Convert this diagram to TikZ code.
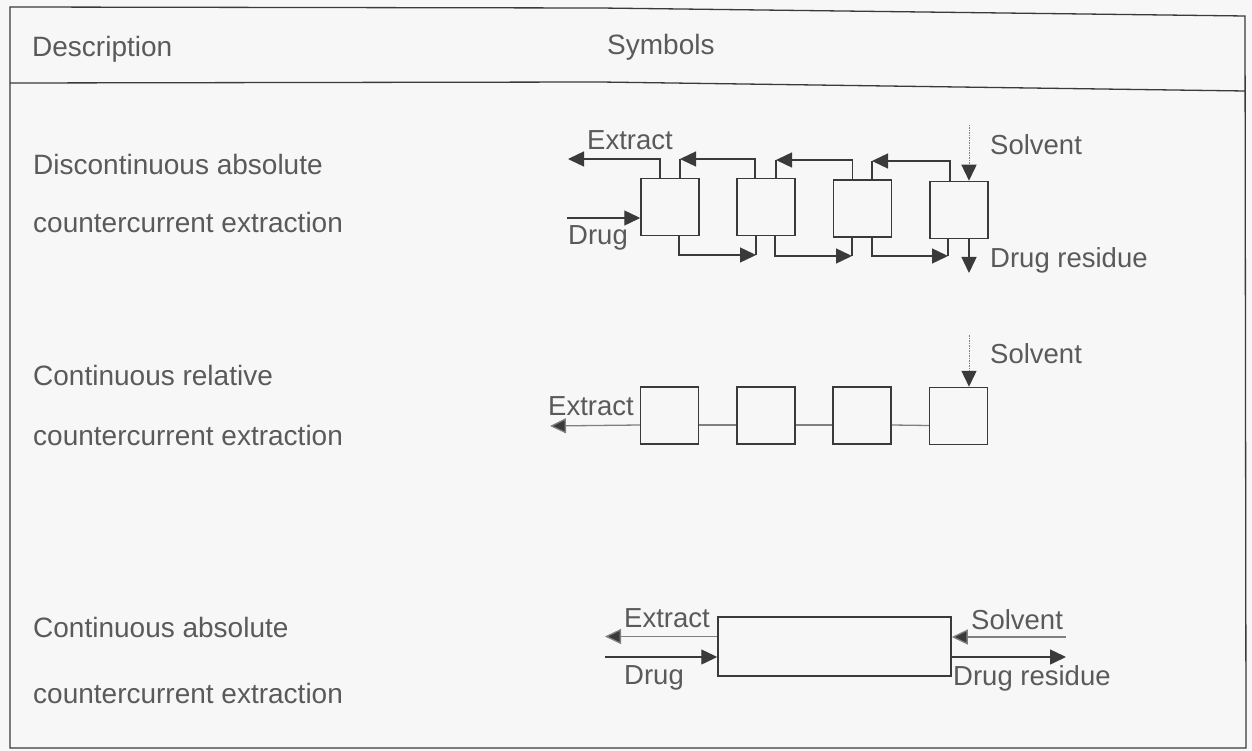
\documentclass[tikz,border=0pt]{standalone}
\usepackage{fontspec}
\setmainfont{Liberation Sans}
\usetikzlibrary{arrows.meta}
\definecolor{ink}{HTML}{3A3A3A}
\definecolor{txt}{HTML}{5A5A5A}
\definecolor{faint}{HTML}{808080}
\definecolor{paper}{HTML}{F7F7F7}
\begin{document}
\begin{tikzpicture}[x=1pt,y=-1pt,
  desc/.style={font=\fontsize{28}{30}\selectfont, text=txt, anchor=base west, inner sep=0pt},
  lbl/.style={font=\fontsize{27.5}{29}\selectfont, text=txt, anchor=base west, inner sep=0pt},
  box/.style={draw=ink, line width=1.5pt, minimum width=58pt, minimum height=57pt, inner sep=0pt},
  wire/.style={draw=ink, line width=1.4pt},
  arr/.style={-{Triangle[length=16pt,width=15pt,fill=ink]}},
  light/.style={draw=faint, line width=1.3pt},
  dotline/.style={draw=faint, line width=1pt, dash pattern=on 1.5pt off 1pt}]
\useasboundingbox (0,0) rectangle (1252,751);
\fill[paper] (0,0) rectangle (1252,751);
% frame
\draw[ink, line width=1.3pt] (10,7) -- (600,8) -- (1245,16) -- (1246,748) -- (10,748) -- cycle;
\draw[ink, line width=1.3pt] (10,83) -- (600,82) -- (1245,91);
% header
\node[desc] (hdesc) at (32,57) {Description};
\node[desc] (hsym) at (607,55) {Symbols};
% descriptions
\node[desc] (d1a) at (33,175) {Discontinuous absolute};
\node[desc] (d1b) at (33,233) {countercurrent extraction};
\node[desc] (d2a) at (33,385) {Continuous relative};
\node[desc] (d2b) at (33,445) {countercurrent extraction};
\node[desc] (d3a) at (33,637) {Continuous absolute};
\node[desc] (d3b) at (33,703) {countercurrent extraction};

% ---------- row 1 ----------
\node[box] (a1) at (670,207) {};
\node[box] (a2) at (766,207) {};
\node[box] (a3) at (862.5,208.5) {};
\node[box] (a4) at (959,210) {};
\coordinate (ext1) at (568,159);
\coordinate (t12) at (680,159);
\coordinate (t23) at (776,160);
\coordinate (t34) at (872,161);
\draw[wire,arr] ([xshift=-10pt]a1.north) |- (ext1);
\draw[wire,arr] ([xshift=-11pt]a2.north) |- (t12);
\draw[wire] (t12) -- (t12 |- a1.north);
\draw[wire,arr] ([xshift=-10pt]a3.north) |- (t23);
\draw[wire] (t23) -- (t23 |- a2.north);
\draw[wire,arr] ([xshift=-9pt]a4.north) |- (t34);
\draw[wire] (t34) -- (t34 |- a3.north);
\coordinate (b12) at (756,255);
\coordinate (b23) at (852,256);
\coordinate (b34) at (948,256);
\draw[wire,arr] ([xshift=9pt]a1.south) |- (b12);
\draw[wire] (b12) -- (b12 |- a2.south);
\draw[wire,arr] ([xshift=9pt]a2.south) |- (b23);
\draw[wire] (b23) -- (b23 |- a3.south);
\draw[wire,arr] ([xshift=9.5pt]a3.south) |- (b34);
\draw[wire] (b34) -- (b34 |- a4.south);
\coordinate (res1) at (969,273);
\draw[wire,arr] (res1 |- a4.south) -- (res1);
\coordinate (sol1) at (969,125);
\draw[dotline] (sol1) -- (969,168);
\draw[wire,arr] (969,166) -- (sol1 |- a4.north);
\coordinate (drug1) at (567,218);
\draw[wire,arr] (drug1) -- (drug1 -| a1.west);
\node[lbl] (l1e) at (587,150) {Extract};
\node[lbl] (l1d) at (568,244) {Drug};
\node[lbl] (l1s) at (990,155) {Solvent};
\node[lbl] (l1r) at (990,267) {Drug residue};

% ---------- row 2 ----------
\node[box] (c1) at (669.5,415.5) {};
\node[box] (c2) at (766,415.5) {};
\node[box] (c3) at (862,415.5) {};
\node[box] (c4) at (958.5,416) {};
\draw[light] ([yshift=-9.5pt]c1.east) -- ([yshift=-9.5pt]c2.west);
\draw[light] ([yshift=-9.5pt]c2.east) -- ([yshift=-9.5pt]c3.west);
\draw[light] ([yshift=-9.5pt]c3.east) -- ([yshift=-9.5pt]c4.west);
\coordinate (ext2) at (550,426);
\draw[light,arr] ([yshift=-9.5pt]c1.west) -- (ext2);
\coordinate (sol2) at (969,335);
\draw[dotline] (sol2) -- (969,373);
\draw[wire,arr] (969,371) -- (sol2 |- c4.north);
\node[lbl] (l2e) at (548,415) {Extract};
\node[lbl] (l2s) at (990,363) {Solvent};

% ---------- row 3 ----------
\node[box, minimum width=233pt, minimum height=59pt] (d) at (834.5,646.5) {};
\coordinate (ext3) at (605,636.5);
\coordinate (drug3) at (605,657);
\coordinate (sol3) at (1066,637);
\coordinate (res3) at (1066,657);
\draw[light,arr] (ext3 -| d.west) -- (ext3);
\draw[wire,arr] (drug3) -- (drug3 -| d.west);
\draw[light,arr] (sol3) -- (sol3 -| d.east);
\draw[wire,arr] (res3 -| d.east) -- (res3);
\node[lbl] (l3e) at (624,627) {Extract};
\node[lbl] (l3d) at (624,684) {Drug};
\node[lbl] (l3s) at (971,629) {Solvent};
\node[lbl] (l3r) at (953,685) {Drug residue};
\end{tikzpicture}
\end{document}
